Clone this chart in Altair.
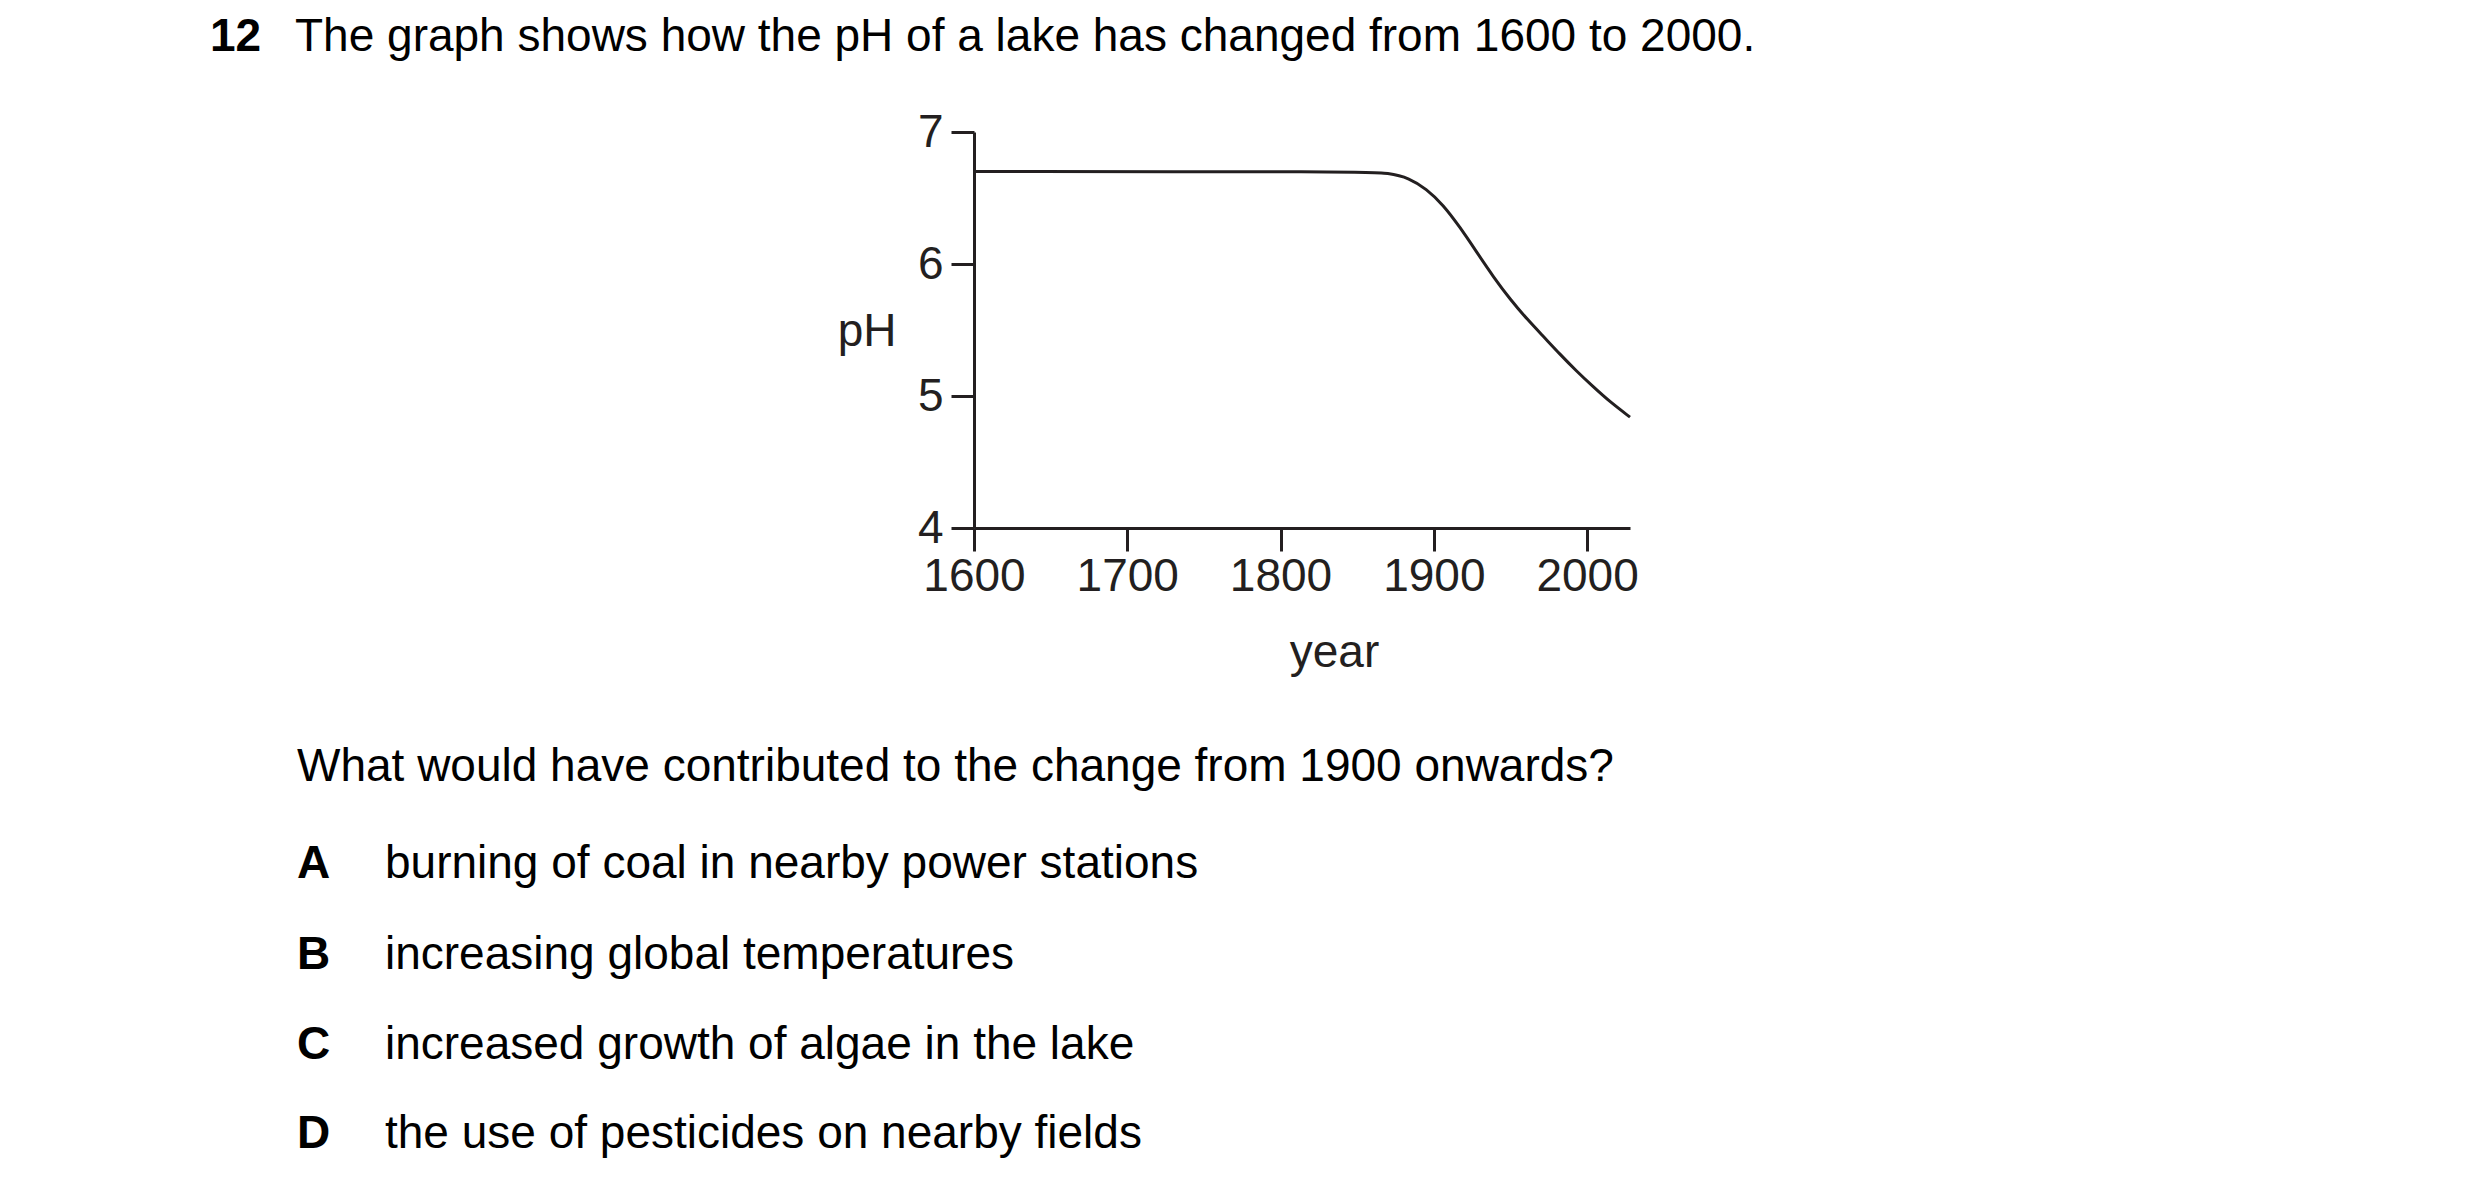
import pandas as pd
import altair as alt

# pH of the lake
years = [1600, 1852, 1871, 1884, 1895, 1906, 1917, 1928, 1939, 1950,
         1961, 1972, 1982, 1993, 2004, 2015, 2028]
ph = [6.70, 6.70, 6.69, 6.65, 6.57, 6.45, 6.28, 6.09, 5.90, 5.73,
      5.58, 5.445, 5.32, 5.19, 5.07, 4.955, 4.84]

x_ticks = [1600, 1700, 1800, 1900, 2000]
y_ticks = [4, 5, 6, 7]

# question text
q_number = "12"
q_intro = "The graph shows how the pH of a lake has changed from 1600 to 2000."
q_text = "What would have contributed to the change from 1900 onwards?"
option_letters = ["A", "B", "C", "D"]
option_texts = [
    "burning of coal in nearby power stations",
    "increasing global temperatures",
    "increased growth of algae in the lake",
    "the use of pesticides on nearby fields",
]

FONT = "Liberation Sans"
INK = "#231f20"
FS = 46

lake = pd.DataFrame({"year": years, "pH": ph})

line = alt.Chart(lake).mark_line(
    color=INK, strokeWidth=3, interpolate="basis", clip=False
).encode(
    x=alt.X("year:Q",
            scale=alt.Scale(domain=[1600, 2028], nice=False, zero=False),
            axis=alt.Axis(values=x_ticks, format="d", title="year",
                          labelPadding=3, labelFlush=False, labelOverlap=False,
                          titleX=360, titleY=138, titleAlign="center",
                          titleBaseline="alphabetic")),
    y=alt.Y("pH:Q",
            scale=alt.Scale(domain=[4, 7], nice=False, zero=False),
            axis=alt.Axis(values=y_ticks, title="pH", labelPadding=8,
                          titleAngle=0, titleX=-78, titleY=213,
                          titleAlign="right", titleBaseline="alphabetic")),
)


def text_layer(txt, x, y, bold=False):
    return alt.Chart(pd.DataFrame({"t": [txt]})).mark_text(
        align="left", baseline="alphabetic", font=FONT, fontSize=FS,
        fontWeight="bold" if bold else "normal", color="#000000"
    ).encode(text="t:N", x=alt.value(x), y=alt.value(y))


layers = [line,
          text_layer(q_number, -764, -81, bold=True),
          text_layer(q_intro, -679, -81),
          text_layer(q_text, -677, 649)]
option_y = [746, 837, 927, 1016]
for letter, txt, yy in zip(option_letters, option_texts, option_y):
    layers.append(text_layer(letter, -677, yy, bold=True))
    layers.append(text_layer(txt, -589, yy))

chart = alt.layer(*layers).properties(
    width=656, height=396,
    padding={"left": 966, "top": 124, "right": 800, "bottom": 650},
    autosize=alt.AutoSizeParams(type="none"),
    background="white",
).configure_view(stroke=None).configure_axis(
    grid=False, domainColor=INK, domainWidth=3, tickColor=INK, tickWidth=3,
    tickSize=23, labelFont=FONT, labelFontSize=FS, labelColor=INK,
    titleFont=FONT, titleFontSize=FS, titleColor=INK, titleFontWeight="normal",
)

chart.save("out.html", embed_options={"renderer": "svg", "actions": False})
